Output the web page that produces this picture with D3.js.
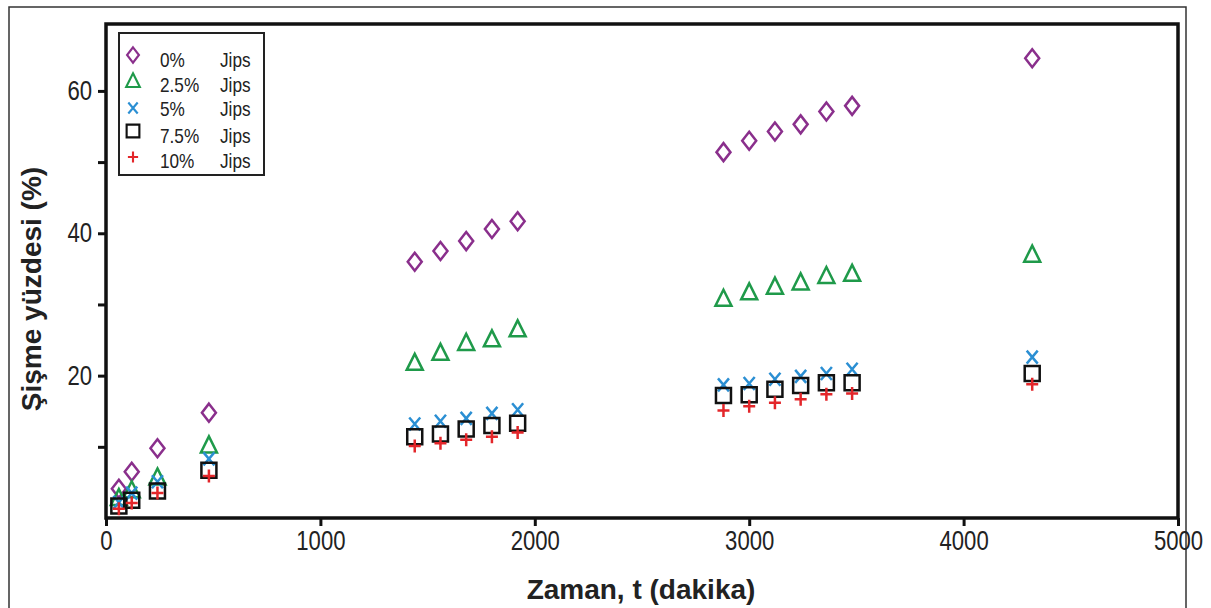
<!DOCTYPE html>
<html><head><meta charset="utf-8">
<script src="https://cdn.jsdelivr.net/npm/d3@7"></script>
<style>
html,body{margin:0;padding:0;background:#fff;}
text{font-family:"Liberation Sans",Arial,sans-serif;}
</style></head>
<body><svg id="chart" width="1211" height="608"></svg>
<script>
const times = [60,120,240,480,1440,1560,1680,1800,1920,2880,3000,3120,3240,3360,3480,4320];
const jips0  = [4.1,6.5,9.8,14.8,36.0,37.5,38.9,40.6,41.7,51.4,53.0,54.3,55.3,57.1,57.9,64.6];
const jips25 = [2.8,3.9,5.7,10.2,21.8,23.2,24.6,25.1,26.5,30.8,31.7,32.5,33.1,34.0,34.3,37.0];
const jips5  = [2.2,3.5,5.1,8.3,13.2,13.6,14.0,14.7,15.2,18.7,18.9,19.5,19.9,20.3,20.9,22.6];
const jips75 = [1.7,2.5,3.8,6.7,11.4,11.8,12.5,13.0,13.3,17.2,17.3,18.1,18.6,19.0,19.0,20.3];
const jips10 = [1.3,2.1,3.5,5.9,10.1,10.5,11.0,11.4,12.0,15.1,15.7,16.2,16.7,17.4,17.5,18.8];
const seriesNames = ["0%","2.5%","5%","7.5%","10%"];
const unitLabel = "Jips";
const xTicks = [0,1000,2000,3000,4000,5000];
const yTicks = [10,20,30,40,50,60];
const yLabeled = [20,40,60];
const xTitle = "Zaman, t (dakika)";
const yTitle = "Şişme yüzdesi (%)";

const colors = ["#8a2f8c","#1f9a4a","#2b8fd3","#111111","#e3262a"];
const shapes = ["diamond","triangle","cross","square","plus"];
const seriesVals = [jips0,jips25,jips5,jips75,jips10];

const svg = d3.select("#chart");
const L=106, R=1178, T=24, B=518;
const x = d3.scaleLinear().domain([0,5000]).range([L,R]);
const y = d3.scaleLinear().domain([0,69.4]).range([B,T]);
const SX = 0.82;

// outer border
svg.append("rect").attr("x",9).attr("y",7).attr("width",1177).attr("height",700)
  .attr("fill","none").attr("stroke","#333").attr("stroke-width",1.5);

function shapePath(s){
  switch(s){
    case "diamond": return "M0,-9L7,0L0,9L-7,0Z";
    case "triangle": return "M0,-9L8,7L-8,7Z";
    case "square": return "M-7.5,-7.5H7.5V7.5H-7.5Z";
    case "cross": return "M-5.5,-6.5L5.5,6.5M5.5,-6.5L-5.5,6.5";
    case "plus": return "M-6,0H6M0,-6.5V6.5";
  }
}

// axes
const xAxis = d3.axisBottom(x).tickValues(xTicks).tickSize(8).tickPadding(5).tickFormat(d3.format("d"));
const gx = svg.append("g").attr("transform",`translate(0,${B})`).call(xAxis);
gx.select(".domain").remove();
gx.selectAll(".tick line").attr("stroke","#111").attr("stroke-width",3);
gx.selectAll(".tick text").attr("font-size",27).attr("fill","#222")
  .attr("transform",`scale(${SX},1)`);

const yAxis = d3.axisLeft(y).tickValues(yTicks).tickSize(8).tickPadding(6)
  .tickFormat(d=> yLabeled.includes(d)? d : "");
const gy = svg.append("g").attr("transform",`translate(${L},0)`).call(yAxis);
gy.select(".domain").remove();
gy.selectAll(".tick line").attr("stroke","#111").attr("stroke-width",3);
gy.selectAll(".tick text").attr("font-size",27).attr("fill","#222")
  .attr("x",-14/SX).attr("transform",`scale(${SX},1)`);

// frame
svg.append("rect").attr("x",L).attr("y",T).attr("width",R-L).attr("height",B-T)
  .attr("fill","none").attr("stroke","#111").attr("stroke-width",3.5);

// data
seriesVals.forEach((vals,i)=>{
  svg.append("g").selectAll("path").data(vals).join("path")
    .attr("transform",(d,j)=>`translate(${x(times[j])},${y(d)})`)
    .attr("d",shapePath(shapes[i]))
    .attr("fill","none").attr("stroke",colors[i])
    .attr("stroke-width", 2.5);
});

// legend
const lg = svg.append("g").attr("transform","translate(119,33)");
lg.append("rect").attr("width",145).attr("height",142).attr("fill","#fff")
  .attr("stroke","#222").attr("stroke-width",2);
const symY = [22,48,75,98,124];
const txtY = [34,59,83,110,135];
seriesNames.forEach((n,i)=>{
  lg.append("path").attr("transform",`translate(14,${symY[i]}) scale(0.85)`)
    .attr("d",shapePath(shapes[i])).attr("fill","none").attr("stroke",colors[i]).attr("stroke-width",2.5);
  lg.append("text").attr("transform",`translate(41,${txtY[i]}) scale(0.86,1)`).attr("font-size",20).attr("fill","#222").text(n);
  lg.append("text").attr("transform",`translate(101,${txtY[i]}) scale(0.86,1)`).attr("font-size",20).attr("fill","#222").text(unitLabel);
});

// titles
svg.append("text").attr("x",(L+R)/2 - 1).attr("y",599).attr("text-anchor","middle")
  .attr("font-size",28).attr("font-weight","bold").attr("fill","#222").text(xTitle);
svg.append("text").attr("transform",`translate(41,${(T+B)/2 + 18}) rotate(-90)`).attr("text-anchor","middle")
  .attr("font-size",28).attr("font-weight","bold").attr("fill","#222").text(yTitle);
</script></body></html>
